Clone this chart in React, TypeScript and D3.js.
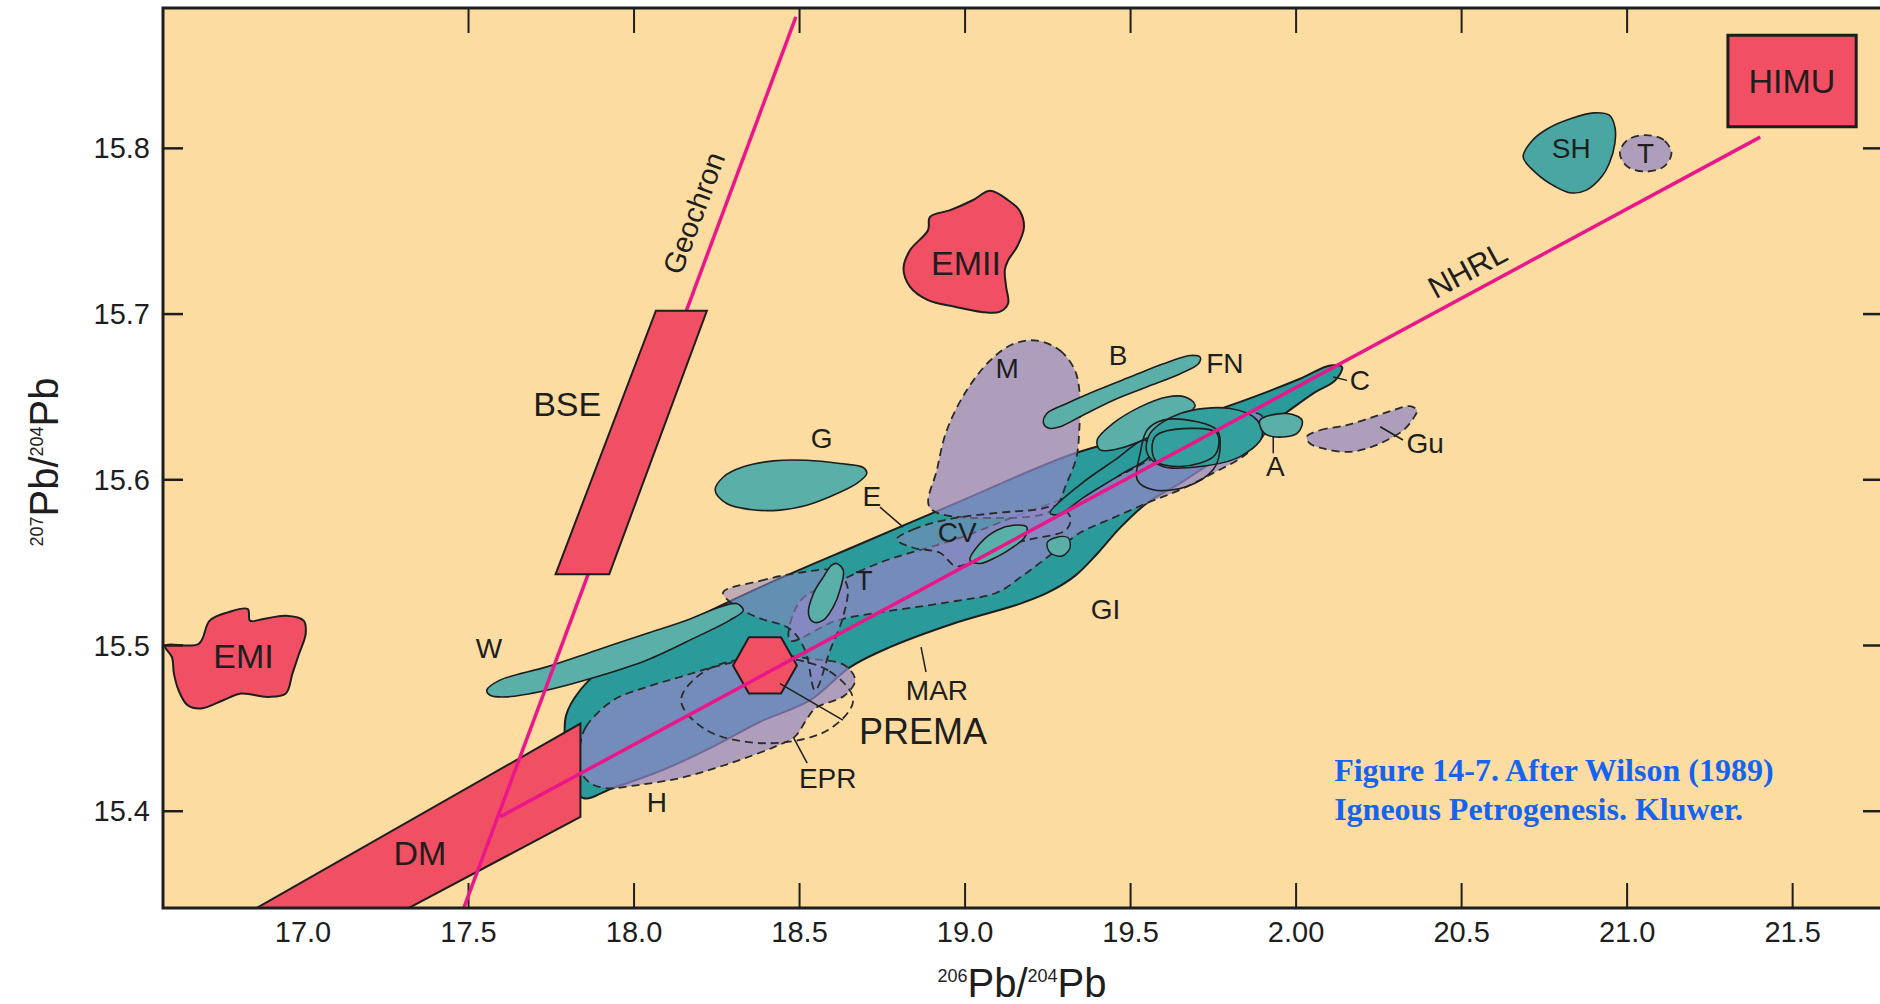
import * as d3 from "d3";

type Pt = [number, number];

// axes
const xTicks = [17.0, 17.5, 18.0, 18.5, 19.0, 19.5, 20.0, 20.5, 21.0, 21.5];
const xTickLabels = ["17.0", "17.5", "18.0", "18.5", "19.0", "19.5", "2.00", "20.5", "21.0", "21.5"];
const topTicks = [17.5, 18.0, 18.5, 19.0, 19.5, 20.0, 20.5, 21.0];
const yTicks = [15.4, 15.5, 15.6, 15.7, 15.8];
const yTickLabels = ["15.4", "15.5", "15.6", "15.7", "15.8"];

// mantle end-members (red)
const emi: Pt[] = [[16.583, 15.5], [16.685, 15.501], [16.718, 15.515], [16.773, 15.52], [16.833, 15.522], [16.84, 15.515], [16.88, 15.516], [16.948, 15.518], [17.002, 15.515], [17.008, 15.507], [16.988, 15.495], [16.968, 15.483], [16.948, 15.471], [16.894, 15.469], [16.813, 15.471], [16.759, 15.467], [16.692, 15.462], [16.651, 15.464], [16.624, 15.473], [16.61, 15.483], [16.604, 15.493]];
const emii: Pt[] = [[18.814, 15.7275], [18.834, 15.7386], [18.888, 15.7506], [18.894, 15.7587], [18.955, 15.7627], [19.023, 15.7687], [19.076, 15.7744], [19.13, 15.7687], [19.164, 15.7627], [19.178, 15.7526], [19.157, 15.7406], [19.13, 15.7325], [19.12, 15.7265], [19.124, 15.7164], [19.13, 15.7064], [19.104, 15.7013], [19.05, 15.7013], [18.969, 15.7044], [18.888, 15.7084], [18.834, 15.7164]];
const bse: Pt[] = [[18.066, 15.702], [18.22, 15.702], [17.925, 15.543], [17.763, 15.543]];
const dm: Pt[] = [[16.758, 15.33], [17.838, 15.4529], [17.838, 15.3966], [17.21, 15.33]];
const himu: Pt[] = [[21.3045, 15.8683], [21.692, 15.8683], [21.692, 15.813], [21.3045, 15.813]];
const prema: Pt[] = [[18.299, 15.488], [18.347, 15.505], [18.444, 15.505], [18.492, 15.488], [18.444, 15.471], [18.347, 15.471]];

// reference lines
const geochron: Pt[] = [[17.464, 15.33], [18.489, 15.8794]];
const nhrl: Pt[] = [[17.595, 15.3966], [21.402, 15.8068]];

// MORB / OIB fields
const mar: Pt[] = [[17.792, 15.44], [17.795, 15.458], [17.837, 15.473], [17.912, 15.487], [18.018, 15.498], [18.16, 15.514], [18.39, 15.536], [18.692, 15.562], [18.985, 15.587], [19.317, 15.615], [19.559, 15.629], [19.831, 15.647], [20.012, 15.661], [20.103, 15.669], [20.139, 15.668], [20.118, 15.66], [20.051, 15.652], [19.952, 15.638], [19.852, 15.625], [19.749, 15.611], [19.65, 15.598], [19.55, 15.586], [19.468, 15.571], [19.402, 15.556], [19.332, 15.542], [19.251, 15.532], [19.163, 15.525], [18.961, 15.513], [18.773, 15.499], [18.653, 15.487], [18.532, 15.467], [18.381, 15.454], [18.239, 15.439], [18.088, 15.425], [17.937, 15.414], [17.846, 15.408], [17.807, 15.422]];
const band: Pt[] = [[18.471, 15.503], [18.502, 15.527], [18.622, 15.539], [18.743, 15.55], [18.985, 15.565], [19.166, 15.579], [19.408, 15.597], [19.589, 15.615], [19.77, 15.631], [19.885, 15.64], [19.912, 15.632], [19.852, 15.616], [19.749, 15.604], [19.65, 15.594], [19.55, 15.586], [19.447, 15.577], [19.347, 15.568], [19.287, 15.559], [19.227, 15.55], [19.166, 15.541], [19.097, 15.532], [18.946, 15.526], [18.743, 15.52], [18.61, 15.515]];
const epr: Pt[] = [[17.837, 15.44], [17.855, 15.451], [17.937, 15.467], [18.039, 15.475], [18.139, 15.481], [18.26, 15.488], [18.411, 15.494], [18.532, 15.492], [18.637, 15.488], [18.668, 15.479], [18.637, 15.47], [18.547, 15.462], [18.517, 15.454], [18.486, 15.445], [18.426, 15.439], [18.335, 15.432], [18.245, 15.426], [18.139, 15.42], [18.018, 15.416], [17.912, 15.414], [17.861, 15.418], [17.831, 15.428]];
const premaRing: Pt[] = [[18.662, 15.467], [18.586, 15.485], [18.402, 15.493], [18.218, 15.485], [18.142, 15.467], [18.218, 15.449], [18.402, 15.441], [18.586, 15.449]];
const tField: Pt[] = [[18.269, 15.532], [18.381, 15.539], [18.502, 15.544], [18.607, 15.545], [18.644, 15.536], [18.631, 15.517], [18.592, 15.497], [18.547, 15.473], [18.517, 15.497], [18.471, 15.51], [18.372, 15.517], [18.305, 15.524]];
const mField: Pt[] = [[19.217, 15.684], [19.287, 15.678], [19.332, 15.666], [19.347, 15.65], [19.345, 15.63], [19.337, 15.614], [19.307, 15.598], [19.266, 15.582], [19.106, 15.577], [18.894, 15.583], [18.915, 15.606], [18.945, 15.63], [19.005, 15.654], [19.076, 15.672], [19.146, 15.682]];
const cvField: Pt[] = [[18.794, 15.564], [18.843, 15.57], [18.945, 15.576], [19.096, 15.58], [19.217, 15.582], [19.277, 15.584], [19.317, 15.578], [19.307, 15.57], [19.196, 15.564], [19.076, 15.558], [19.015, 15.55], [18.97, 15.548], [18.924, 15.556], [18.843, 15.559]];
const guField: Pt[] = [[20.032, 15.6259], [20.072, 15.6299], [20.153, 15.633], [20.234, 15.638], [20.294, 15.642], [20.344, 15.6444], [20.365, 15.642], [20.354, 15.637], [20.324, 15.6299], [20.274, 15.6239], [20.214, 15.6189], [20.153, 15.6168], [20.082, 15.6189], [20.042, 15.6219]];
const tRight: Pt[] = [[21.134, 15.797], [21.111, 15.805], [21.056, 15.808], [21.001, 15.805], [20.978, 15.797], [21.001, 15.789], [21.056, 15.786], [21.111, 15.789]];

// ocean island lenses (teal)
const wLens: Pt[] = [[17.555, 15.473], [17.595, 15.4791], [17.736, 15.4871], [17.887, 15.4972], [18.038, 15.5072], [18.159, 15.5153], [18.26, 15.5233], [18.31, 15.5253], [18.33, 15.5213], [18.29, 15.5153], [18.189, 15.5052], [18.038, 15.4911], [17.887, 15.4811], [17.736, 15.473], [17.615, 15.469], [17.565, 15.47]];
const gLens: Pt[] = [[18.245, 15.5937], [18.27, 15.6017], [18.33, 15.6078], [18.421, 15.6114], [18.522, 15.6118], [18.622, 15.6098], [18.693, 15.6074], [18.703, 15.6038], [18.673, 15.5978], [18.602, 15.5907], [18.522, 15.5847], [18.441, 15.5817], [18.35, 15.5821], [18.28, 15.5857]];
const bLens: Pt[] = [[19.237, 15.634], [19.247, 15.64], [19.307, 15.646], [19.398, 15.654], [19.498, 15.662], [19.599, 15.67], [19.68, 15.675], [19.71, 15.674], [19.705, 15.67], [19.65, 15.664], [19.549, 15.656], [19.448, 15.648], [19.347, 15.638], [19.287, 15.632], [19.257, 15.631]];
const fnLens: Pt[] = [[19.399, 15.624], [19.447, 15.634], [19.529, 15.644], [19.61, 15.65], [19.665, 15.65], [19.695, 15.645], [19.65, 15.636], [19.559, 15.626], [19.468, 15.619], [19.408, 15.618]];
const shLens: Pt[] = [[20.686, 15.7949], [20.715, 15.805], [20.761, 15.812], [20.831, 15.818], [20.9, 15.8214], [20.946, 15.82], [20.963, 15.813], [20.963, 15.803], [20.946, 15.7909], [20.923, 15.7828], [20.877, 15.7748], [20.831, 15.7731], [20.784, 15.7768], [20.726, 15.7849]];
const tLens: Pt[] = [[18.612, 15.5495], [18.632, 15.5454], [18.622, 15.5334], [18.602, 15.5233], [18.572, 15.5153], [18.542, 15.5142], [18.527, 15.5193], [18.542, 15.5314], [18.572, 15.5414], [18.597, 15.5485]];
const cvLens: Pt[] = [[19.015, 15.5515], [19.045, 15.5616], [19.096, 15.5696], [19.146, 15.5726], [19.186, 15.5716], [19.181, 15.5655], [19.146, 15.5595], [19.096, 15.5535], [19.045, 15.5495]];
const smallOval: Pt[] = [[19.248, 15.562], [19.272, 15.565], [19.311, 15.565], [19.317, 15.559], [19.293, 15.554], [19.257, 15.556]];
const lowLens: Pt[] = [[19.257, 15.58], [19.347, 15.597], [19.453, 15.612], [19.544, 15.624], [19.559, 15.615], [19.468, 15.603], [19.363, 15.59], [19.281, 15.579]];
const ovalOuter: Pt[] = [[19.559, 15.628], [19.65, 15.64], [19.801, 15.643], [19.882, 15.636], [19.897, 15.626], [19.831, 15.614], [19.71, 15.608], [19.598, 15.608], [19.55, 15.616]];
const ovalInner: Pt[] = [[19.55, 15.63], [19.598, 15.636], [19.701, 15.635], [19.761, 15.63], [19.77, 15.618], [19.749, 15.606], [19.671, 15.596], [19.568, 15.594], [19.52, 15.6], [19.529, 15.616]];
const ovalSmall: Pt[] = [[19.574, 15.626], [19.68, 15.631], [19.761, 15.628], [19.755, 15.615], [19.65, 15.608], [19.574, 15.612]];
const aOval: Pt[] = [[19.891, 15.636], [19.973, 15.64], [20.018, 15.636], [20.003, 15.628], [19.931, 15.626], [19.9, 15.629]];

// leader lines
const leaders: Pt[][] = [
  [[18.743, 15.5835], [18.813, 15.5714]],
  [[18.867, 15.499], [18.882, 15.484]],
  [[18.441, 15.477], [18.631, 15.455]],
  [[18.483, 15.444], [18.523, 15.429]],
  [[20.112, 15.662], [20.154, 15.66]],
  [[19.931, 15.626], [19.931, 15.616]],
  [[20.254, 15.632], [20.323, 15.624]],
];

// labels
const bigLabels: [string, number, number][] = [
  ["EMI", 16.82, 15.4935], ["EMII", 19.003, 15.731], ["DM", 17.353, 15.3747],
  ["BSE", 17.798, 15.646], ["HIMU", 21.498, 15.8405], ["PREMA", 18.873, 15.448],
];
const smallLabels: [string, number, number][] = [
  ["W", 17.562, 15.498], ["G", 18.567, 15.625], ["E", 18.718, 15.59], ["T", 18.695, 15.539],
  ["CV", 18.976, 15.568], ["M", 19.127, 15.667], ["B", 19.462, 15.675], ["FN", 19.785, 15.67],
  ["C", 20.193, 15.66], ["A", 19.937, 15.608], ["Gu", 20.39, 15.622], ["GI", 19.424, 15.522],
  ["MAR", 18.915, 15.473], ["EPR", 18.585, 15.42], ["H", 18.069, 15.405], ["SH", 20.831, 15.8],
  ["T", 21.056, 15.797],
];
const geochronLabel: Pt = [18.181, 15.761];
const nhrlLabel: Pt = [20.518, 15.7265];
const caption = ["Figure 14-7. After Wilson (1989)", "Igneous Petrogenesis. Kluwer."];
const captionAt: Pt[] = [[20.115, 15.418], [20.115, 15.3946]];

const W = 1880;
const H = 1004;
const x = d3.scaleLinear().domain([16.577, 21.773]).range([163, 1883]);
const y = d3.scaleLinear().domain([15.3416, 15.8847]).range([908, 8]);

const RED = "#f14f64";
const TEAL = "#2b9a9a";
const LTEAL = "#5bafa9";
const LAV = "#8f87c6";
const INK = "#1e1e1e";
const MAGENTA = "#ea168a";
const SANS = "'Liberation Sans', Arial, Helvetica, sans-serif";

const smooth = d3.line<Pt>().x((d) => x(d[0])).y((d) => y(d[1])).curve(d3.curveCatmullRomClosed.alpha(0.5));
const poly = d3.line<Pt>().x((d) => x(d[0])).y((d) => y(d[1])).curve(d3.curveLinearClosed);
const seg = d3.line<Pt>().x((d) => x(d[0])).y((d) => y(d[1]));

function angle(line: Pt[]) {
  const [a, b] = line;
  return (Math.atan2(y(b[1]) - y(a[1]), x(b[0]) - x(a[0])) * 180) / Math.PI;
}

export default function App() {
  const [x0, x1] = x.range();
  const [y0, y1] = y.range();
  const dashed = { stroke: "#2a2a2a", strokeWidth: 1.8, strokeDasharray: "8 5" };
  const solid = { stroke: INK, strokeWidth: 2 };

  return (
    <svg width={W} height={H} style={{ position: "absolute", left: 0, top: 0, background: "#fff" }} fontFamily={SANS}>
      <defs>
        <clipPath id="plot">
          <rect x={x0} y={y1} width={x1 - x0} height={y0 - y1} />
        </clipPath>
      </defs>
      <rect x={x0} y={y1} width={x1 - x0} height={y0 - y1} fill="#fddca1" />

      {/* bottom ticks sit under the fields (DM hides 17.0 and 17.5) */}
      {xTicks.map((t) => (
        <line key={`xt${t}`} x1={x(t)} x2={x(t)} y1={y0} y2={y0 - 25} stroke={INK} strokeWidth={2} />
      ))}

      <g clipPath="url(#plot)">
        {/* end-members */}
        <path d={smooth(emi) ?? ""} fill={RED} {...solid} />
        <path d={smooth(emii) ?? ""} fill={RED} {...solid} />
        <path d={poly(himu) ?? ""} fill={RED} strokeWidth={3} stroke={INK} />

        {/* MORB band */}
        <path d={smooth(mar) ?? ""} fill={TEAL} {...solid} />
        <path d={smooth(band) ?? ""} fill={LAV} fillOpacity={0.75} {...dashed} />
        <path d={smooth(epr) ?? ""} fill={LAV} fillOpacity={0.72} {...dashed} />
        <path d={smooth(tField) ?? ""} fill={LAV} fillOpacity={0.55} {...dashed} />
        <path d={smooth(mField) ?? ""} fill={LAV} fillOpacity={0.72} {...dashed} />
        <path d={smooth(cvField) ?? ""} fill={LAV} fillOpacity={0.5} {...dashed} />
        <path d={smooth(guField) ?? ""} fill={LAV} fillOpacity={0.72} {...dashed} />
        <path d={smooth(tRight) ?? ""} fill={LAV} fillOpacity={0.72} {...dashed} />
        <path d={smooth(premaRing) ?? ""} fill="none" {...dashed} />

        {/* island lenses */}
        <path d={smooth(wLens) ?? ""} fill={LTEAL} {...solid} strokeWidth={1.6} />
        <path d={smooth(gLens) ?? ""} fill={LTEAL} {...solid} strokeWidth={1.6} />
        <path d={smooth(bLens) ?? ""} fill={LTEAL} {...solid} strokeWidth={1.6} />
        <path d={smooth(shLens) ?? ""} fill="#4aa6a2" {...solid} strokeWidth={1.6} />
        <path d={smooth(lowLens) ?? ""} fill={TEAL} {...solid} strokeWidth={1.6} />
        <path d={smooth(fnLens) ?? ""} fill={LTEAL} {...solid} strokeWidth={1.6} />
        <path d={smooth(ovalOuter) ?? ""} fill="#33a09e" {...solid} strokeWidth={1.6} />
        <path d={smooth(ovalInner) ?? ""} fill="none" {...solid} strokeWidth={1.6} />
        <path d={smooth(ovalSmall) ?? ""} fill="none" {...solid} strokeWidth={1.6} />
        <path d={smooth(aOval) ?? ""} fill={LTEAL} {...solid} strokeWidth={1.6} />
        <path d={smooth(tLens) ?? ""} fill={LTEAL} {...solid} strokeWidth={1.6} />
        <path d={smooth(cvLens) ?? ""} fill={LTEAL} {...solid} strokeWidth={1.6} />
        <path d={smooth(smallOval) ?? ""} fill={LTEAL} {...solid} strokeWidth={1.4} />

        {/* DM sits over the band */}
        <path d={poly(dm) ?? ""} fill={RED} {...solid} />
        <path d={poly(prema) ?? ""} fill={RED} {...solid} />

        {/* reference lines */}
        <path d={seg(geochron) ?? ""} stroke={MAGENTA} strokeWidth={3.5} fill="none" />
        <path d={seg(nhrl) ?? ""} stroke={MAGENTA} strokeWidth={3.5} fill="none" />
        <path d={poly(bse) ?? ""} fill={RED} {...solid} />

        {leaders.map((l, i) => (
          <path key={i} d={seg(l) ?? ""} stroke={INK} strokeWidth={1.5} fill="none" />
        ))}
      </g>

      {/* labels */}
      {bigLabels.map(([t, vx, vy], i) => (
        <text key={`b${i}`} x={x(vx)} y={y(vy)} fontSize={t === "PREMA" ? 36 : 34} textAnchor="middle" dominantBaseline="central" fill={INK}>
          {t}
        </text>
      ))}
      {smallLabels.map(([t, vx, vy], i) => (
        <text key={`s${i}`} x={x(vx)} y={y(vy)} fontSize={28} textAnchor="middle" dominantBaseline="central" fill={INK}>
          {t}
        </text>
      ))}
      <text
        transform={`translate(${x(geochronLabel[0])},${y(geochronLabel[1])}) rotate(${angle(geochron)})`}
        fontSize={29} textAnchor="middle" dominantBaseline="central" fill={INK}
      >
        Geochron
      </text>
      <text
        transform={`translate(${x(nhrlLabel[0])},${y(nhrlLabel[1])}) rotate(${angle(nhrl)})`}
        fontSize={31} textAnchor="middle" dominantBaseline="central" fill={INK}
      >
        NHRL
      </text>
      {caption.map((c, i) => (
        <text key={c} x={x(captionAt[i][0])} y={y(captionAt[i][1])} fontSize={32} fontWeight="bold" fill="#1464f0" fontFamily="'Liberation Serif', 'Times New Roman', serif">
          {c}
        </text>
      ))}

      {/* frame and ticks */}
      <rect x={x0} y={y1} width={x1 - x0} height={y0 - y1} fill="none" stroke={INK} strokeWidth={3} />
      {xTicks.map((t, i) => (
        <text key={`x${t}`} x={x(t)} y={y0 + 34} fontSize={29} textAnchor="middle" fill={INK}>
          {xTickLabels[i]}
        </text>
      ))}
      {topTicks.map((t) => (
        <line key={`t${t}`} x1={x(t)} x2={x(t)} y1={y1} y2={y1 + 25} stroke={INK} strokeWidth={2} />
      ))}
      {yTicks.map((t, i) => (
        <g key={`y${t}`}>
          <line x1={x0} x2={x0 + 20} y1={y(t)} y2={y(t)} stroke={INK} strokeWidth={2.5} />
          <line x1={x1} x2={x1 - 20} y1={y(t)} y2={y(t)} stroke={INK} strokeWidth={2.5} />
          <text x={x0 - 13} y={y(t)} fontSize={29} textAnchor="end" dominantBaseline="central" fill={INK}>
            {yTickLabels[i]}
          </text>
        </g>
      ))}

      {/* axis titles */}
      <text x={1022} y={997} textAnchor="middle" fill={INK}>
        <tspan fontSize={18} dy={-15}>206</tspan>
        <tspan fontSize={40} dy={15}>Pb/</tspan>
        <tspan fontSize={18} dy={-15}>204</tspan>
        <tspan fontSize={40} dy={15}>Pb</tspan>
      </text>
      <text transform={`translate(58,${(y0 + y1) / 2 + 4}) rotate(-90)`} textAnchor="middle" fill={INK}>
        <tspan fontSize={18} dy={-15}>207</tspan>
        <tspan fontSize={40} dy={15}>Pb/</tspan>
        <tspan fontSize={18} dy={-15}>204</tspan>
        <tspan fontSize={40} dy={15}>Pb</tspan>
      </text>
    </svg>
  );
}
